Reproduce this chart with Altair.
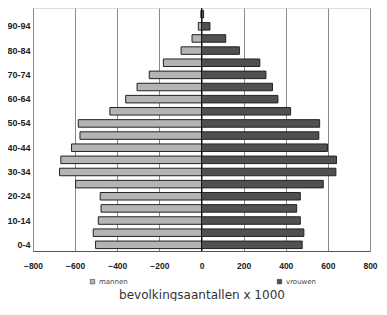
import altair as alt
import pandas as pd

ages = ["0-4", "5-9", "10-14", "15-19", "20-24", "25-29", "30-34", "35-39",
        "40-44", "45-49", "50-54", "55-59", "60-64", "65-69", "70-74",
        "75-79", "80-84", "85-89", "90-94", "95+"]
mannen = [503, 514, 490, 477, 481, 598, 674, 668, 617, 577, 585, 435, 360,
          306, 248, 181, 97, 45, 15, 3]
vrouwen = [478, 486, 469, 452, 469, 578, 638, 641, 598, 557, 561, 423, 363,
           337, 306, 277, 180, 115, 40, 10]
shown_labels = ["0-4", "10-14", "20-24", "30-34", "40-44", "50-54", "60-64",
                "70-74", "80-84", "90-94"]
x_ticks = [-800, -600, -400, -200, 0, 200, 400, 600, 800]

rows = []
for a, m, v in zip(ages, mannen, vrouwen):
    rows.append({"age": a, "geslacht": "mannen", "waarde": -m})
    rows.append({"age": a, "geslacht": "vrouwen", "waarde": v})
df = pd.DataFrame(rows)

order = list(reversed(ages))

bars = alt.Chart(df).mark_bar(stroke="#222222", strokeWidth=1).encode(
    y=alt.Y("age:N", sort=order,
            scale=alt.Scale(paddingInner=0.38, paddingOuter=0.2),
            axis=alt.Axis(values=shown_labels, title=None, domain=False,
                          ticks=False, labelFontWeight="bold",
                          labelFontSize=9, labelColor="#222222",
                          labelPadding=3, labelFont="Liberation Sans")),
    x=alt.X("waarde:Q", scale=alt.Scale(domain=[-800, 800], nice=False),
            axis=alt.Axis(values=x_ticks, grid=True, gridColor="#8a8a8a",
                          gridWidth=1, domainColor="#555555", ticks=False,
                          labelFlush=False,
                          labelFontWeight="bold", labelFontSize=8.5,
                          labelColor="#222222", labelPadding=10,
                          labelFont="Liberation Sans",
                          title="bevolkingsaantallen x 1000",
                          titleFont="DejaVu Sans", titleFontSize=12,
                          titleFontWeight="normal", titleColor="#333333",
                          titlePadding=20)),
    color=alt.Color("geslacht:N",
                    scale=alt.Scale(domain=["mannen", "vrouwen"],
                                    range=["#b4b4b4", "#505050"]),
                    legend=alt.Legend(title=None, orient="none",
                                      direction="horizontal",
                                      legendX=56, legendY=270,
                                      symbolType="square", symbolSize=20,
                                      symbolStrokeColor="#222222",
                                      symbolStrokeWidth=0.5,
                                      labelFontSize=7, labelColor="#444444",
                                      labelFont="DejaVu Sans",
                                      columnPadding=148, labelOffset=3)),
)

zero = alt.Chart(pd.DataFrame({"x": [0]})).mark_rule(
    color="#111111", strokeWidth=1).encode(x="x:Q")

chart = alt.layer(bars, zero).properties(
    width=337, height=243,
    autosize=alt.AutoSizeParams(type="none"),
    padding={"left": 25, "top": 0, "right": 9, "bottom": 50},
).configure_view(stroke=None).configure(background="white")

chart.save("out.html", embed_options={"renderer": "svg", "actions": False})
